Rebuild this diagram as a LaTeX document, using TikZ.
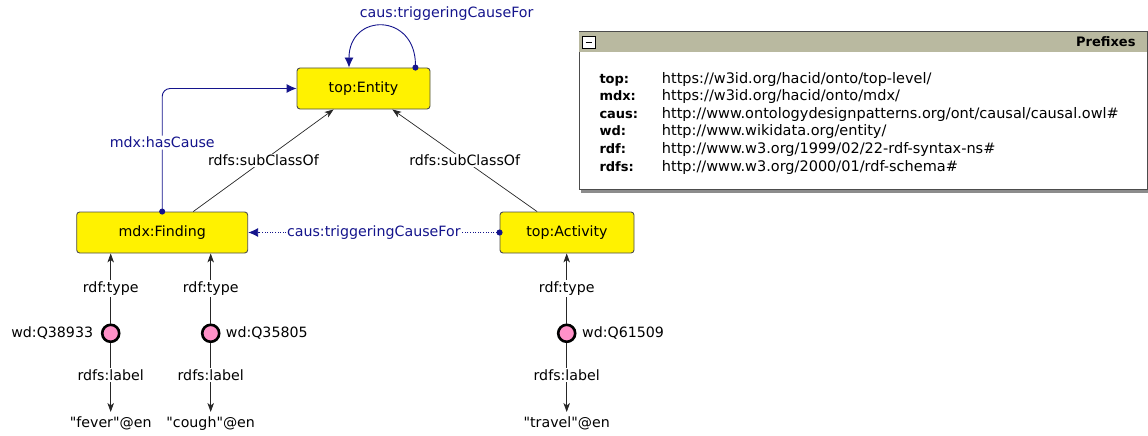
\documentclass[tikz,border=0pt]{standalone}
\usepackage{fontspec}
\setmainfont{DejaVu Sans}[Ligatures=TeXOff]
\usetikzlibrary{arrows.meta}
\definecolor{navy}{RGB}{20,20,140}
\definecolor{pinkc}{RGB}{255,145,200}
\definecolor{headc}{RGB}{185,185,160}
\begin{document}
\begin{tikzpicture}[x=1pt,y=-1pt,
  font=\fontsize{14.2}{17}\selectfont,
  cls/.style={draw=black!70, fill=yellow, rounded corners=3pt, line width=0.9pt, minimum height=41pt, inner sep=0pt},
  ind/.style={circle, draw=black, line width=2.6pt, fill=pinkc, minimum size=17pt, inner sep=0pt},
  txt/.style={inner sep=1pt},
  lit/.style={inner xsep=1pt, inner ysep=4pt, text height=11pt, text depth=3pt, anchor=north},
  lab/.style={fill=white, inner sep=1.5pt},
  blab/.style={lab, text=navy},
  arr/.style={draw=black!85, line width=0.7pt, -{Stealth[length=9pt,width=6.5pt,inset=2.5pt]}},
  barr/.style={draw=navy, line width=0.9pt, {Circle[length=6pt]}-{Latex[length=10pt,width=9pt]}, shorten <=-3pt},
  pkey/.style={anchor=base west, inner sep=0pt, font=\fontsize{13}{15}\bfseries\selectfont},
  purl/.style={anchor=base west, inner sep=0pt, font=\fontsize{14.5}{16}\selectfont}
]
\useasboundingbox (0,0) rectangle (1148,436);

% classes
\node[cls, minimum width=133pt] (entity) at (363.5,88.5) {top:Entity};
\node[cls, minimum width=171pt] (finding) at (162.2,232.5) {mdx:Finding};
\node[cls, minimum width=134pt] (activity) at (567,232.5) {top:Activity};

% individuals
\node[ind] (q1) at (110.7,333.3) {};
\node[ind] (q2) at (210.7,333.3) {};
\node[ind] (q3) at (566.7,333.3) {};
\node[txt, anchor=east] (lq1) at (94.3,333.3) {wd:Q38933};
\node[txt, anchor=west] (lq2) at (224.7,333.3) {wd:Q35805};
\node[txt, anchor=west] (lq3) at (581,333.3) {wd:Q61509};

% literals
\node[lit] (l1) at (110.7,412) {"fever"@en};
\node[lit] (l2) at (210.7,412) {"cough"@en};
\node[lit] (l3) at (566.7,412) {"travel"@en};

% rdf:type
\draw[arr] (q1) -- (finding.south -| q1) node[lab, midway] {rdf:type};
\draw[arr] (q2) -- (finding.south -| q2) node[lab, midway] {rdf:type};
\draw[arr] (q3) -- (activity.south -| q3) node[lab, midway] {rdf:type};

% rdfs:label
\draw[arr] (q1) -- (l1) node[lab, pos=0.47] {rdfs:label};
\draw[arr] (q2) -- (l2) node[lab, pos=0.47] {rdfs:label};
\draw[arr] (q3) -- (l3) node[lab, pos=0.47] {rdfs:label};

% subClassOf
\draw[arr] (finding.34.3) -- (entity.215.2) node[lab, pos=0.5] {rdfs:subClassOf};
\draw[arr] (activity.145.5) -- (entity.324) node[lab, pos=0.5] {rdfs:subClassOf};

% blue relations
\draw[barr, rounded corners=8pt] (finding.north) |- (entity.west) node[blab, pos=0.28] {mdx:hasCause};
\draw[barr, dash pattern=on 1pt off 1.6pt] (activity.west) -- (finding.east) node[blab, midway] {caus:triggeringCauseFor};
\draw[barr] ([xshift=-15pt]entity.north east) .. controls +(0,-55) and +(0,-55) .. ([xshift=-14.5pt]entity.north);
\node[txt, text=navy] (looplab) at (446.7,14) {caus:triggeringCauseFor};

% prefix box
\fill[black!45] (581,33) rectangle (1148,193);
\draw[draw=black!70, fill=white, line width=0.8pt] (579,31.7) rectangle (1147,189.5);
\fill[headc] (579.4,32.1) rectangle (1146.6,51.7);
\draw[black!70, line width=0.8pt] (579,31.7) -- (1147,31.7);
\draw[black, fill=white, line width=0.8pt] (582.7,36.7) rectangle (595,48.3);
\draw[black, line width=1.2pt] (585.5,42.5) -- (592.2,42.5);
\node[anchor=base east, inner sep=0pt, font=\fontsize{13}{15}\bfseries\selectfont] (ptitle) at (1135.7,47) {Prefixes};

\node[pkey] (k1) at (599.3,83) {top:};
\node[pkey] (k2) at (599.3,100.6) {mdx:};
\node[pkey] (k3) at (599.3,118.2) {caus:};
\node[pkey] (k4) at (599.3,135.8) {wd:};
\node[pkey] (k5) at (599.3,153.4) {rdf:};
\node[pkey] (k6) at (599.3,171) {rdfs:};
\node[purl] (u1) at (661.7,83) {https://w3id.org/hacid/onto/top-level/};
\node[purl] (u2) at (661.7,100.6) {https://w3id.org/hacid/onto/mdx/};
\node[purl] (u3) at (661.7,118.2) {http://www.ontologydesignpatterns.org/ont/causal/causal.owl\#};
\node[purl] (u4) at (661.7,135.8) {http://www.wikidata.org/entity/};
\node[purl] (u5) at (661.7,153.4) {http://www.w3.org/1999/02/22-rdf-syntax-ns\#};
\node[purl] (u6) at (661.7,171) {http://www.w3.org/2000/01/rdf-schema\#};
\end{tikzpicture}
\end{document}
